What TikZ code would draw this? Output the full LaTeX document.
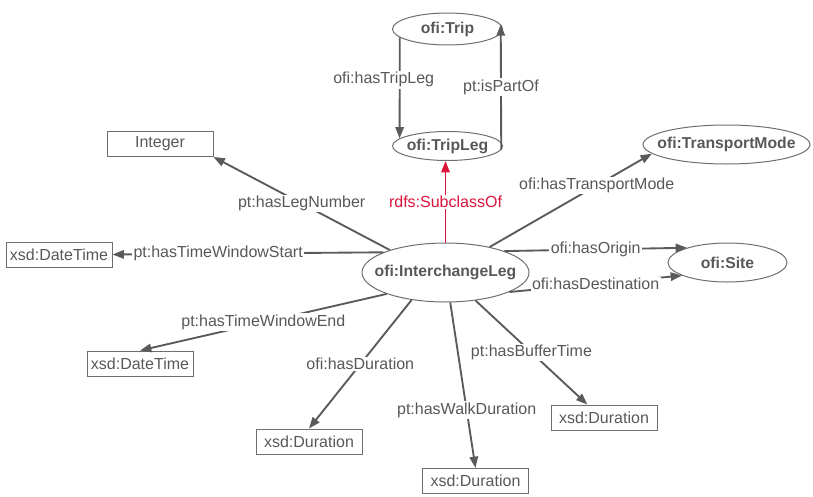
\documentclass[tikz,border=0pt]{standalone}
\usepackage{fontspec}
\setmainfont{Liberation Sans}
\usetikzlibrary{arrows.meta,shapes.geometric}
\definecolor{lnc}{HTML}{5A5A5A}
\definecolor{bdc}{HTML}{6E6E6E}
\definecolor{txc}{HTML}{585858}
\definecolor{rdc}{HTML}{DC143C}
\tikzset{
  cls/.style={ellipse, draw=bdc, line width=0.75pt, inner xsep=-20pt, inner ysep=0pt,
    text=txc, font=\fontsize{11.8}{13}\selectfont\bfseries},
  lit/.style={rectangle, draw=bdc, line width=0.75pt, inner sep=0pt,
    minimum width=79.5pt, minimum height=18.75pt, text=txc, font=\fontsize{12}{13}\selectfont},
  conn/.style={draw=lnc, line width=1.4pt, -{Triangle[length=8.5pt,width=6.3pt]}},
  lbl/.style={fill=white, inner sep=1pt, text=txc, font=\fontsize{12}{13}\selectfont}
}
\begin{document}
\begin{tikzpicture}[x=0.75pt,y=-0.75pt]
\useasboundingbox (0,0) rectangle (813,496);
% classes
\node[cls, minimum width=82.5pt, minimum height=24pt] (Trip) at (447.5,29) {ofi:Trip};
\node[cls, minimum width=82.5pt, minimum height=21.75pt] (TripLeg) at (447.5,146) {ofi:TripLeg};
\node[cls, minimum width=125.25pt, minimum height=44.25pt] (IL) at (445.5,272.5) {ofi:InterchangeLeg};
\node[cls, minimum width=125.25pt, minimum height=29.25pt] (TM) at (726.5,144.5) {ofi:TransportMode};
\node[cls, minimum width=89.25pt, minimum height=29.25pt] (Site) at (727.5,262.5) {ofi:Site};
% literals
\node[lit] (Int) at (160,144) {Integer};
\node[lit] (DTS) at (59,254.5) {xsd:DateTime};
\node[lit] (DTE) at (140,363.5) {xsd:DateTime};
\node[lit] (Dur) at (309,441.5) {xsd:Duration};
\node[lit] (WD) at (475.5,481) {xsd:Duration};
\node[lit] (BD) at (604,417.5) {xsd:Duration};
% connectors
\draw[conn] (Trip.190) -- node[lbl, pos=0.42, xshift=-12pt]{ofi:hasTripLeg} (TripLeg.171);
\draw[conn] (TripLeg.356) -- node[lbl]{pt:isPartOf} (Trip.5);
\draw[conn, draw=rdc] (IL.north) -- node[lbl, text=rdc]{rdfs:SubclassOf} (IL.north |- TripLeg.south);
\draw[conn] (IL.158) -- node[lbl]{pt:hasLegNumber} (Int.south east);
\draw[conn] (IL.162) -- node[lbl, pos=0.61]{pt:hasTimeWindowStart} (DTS.east);
\draw[conn] (IL.200) -- node[lbl]{pt:hasTimeWindowEnd} (DTE.north);
\draw[conn] (IL.219) -- node[lbl]{ofi:hasDuration} (Dur.north);
\draw[conn] (IL.279) -- node[lbl, pos=0.65]{pt:hasWalkDuration} (WD.north);
\draw[conn] (IL.317) -- node[lbl]{pt:hasBufferTime} (BD.142);
\draw[conn] (IL.20) -- node[lbl]{ofi:hasOrigin} (Site.160);
\draw[conn] (IL.343) -- node[lbl]{ofi:hasDestination} (Site.196);
\draw[conn] (IL.30) -- node[lbl, pos=0.66]{ofi:hasTransportMode} (TM.187);
\end{tikzpicture}
\end{document}
